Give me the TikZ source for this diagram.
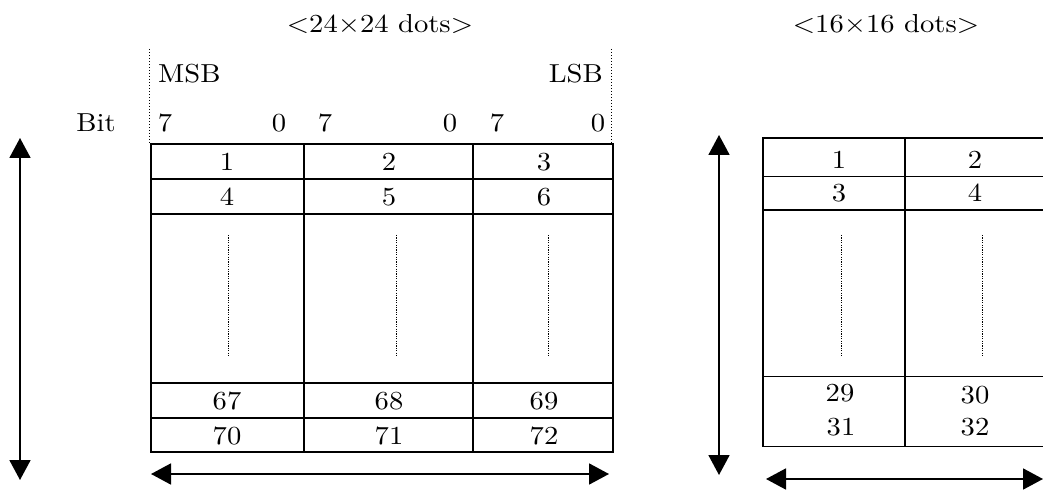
\documentclass[tikz,border=0pt]{standalone}
\usepackage{fontspec}
\setmainfont{lmroman10-regular.otf}[FakeStretch=1.1]
\usetikzlibrary{arrows.meta}
\begin{document}
\begin{tikzpicture}[x=1pt,y=-1pt,
  every node/.style={inner sep=0pt, font=\fontsize{26}{31}\selectfont},
  bigtable/.style={line width=2pt},
  smalltable/.style={line width=1.3pt},
  dotline/.style={line width=1pt, dash pattern=on 1.2pt off 1.2pt},
  guide/.style={line width=1pt, dash pattern=on 1.5pt off 1.5pt},
  arr/.style={line width=1.8pt, {Triangle[length=20pt,width=21pt]}-{Triangle[length=20pt,width=21pt]}}]
\useasboundingbox (0,0) rectangle (1043,502);
\clip (0,0) rectangle (1043,502);

% ---------- titles ----------
\node (t24) at (380,24) {<24×24 dots>};
\node (t16) at (886,24) {<16×16 dots>};

% ---------- left: header ----------
\draw[guide] (149,49) -- (149,143);
\draw[guide] (611.5,49) -- (611.5,143);
\node[anchor=west] (msb) at (158,74) {MSB};
\node[anchor=east] (lsb) at (603,74) {LSB};
\node (bit) at (96,123) {Bit};
\node (b1h) at (165,123) {7};
\node (b1l) at (279,123) {0};
\node (b2h) at (325,123) {7};
\node (b2l) at (450,123) {0};
\node (b3h) at (497,123) {7};
\node (b3l) at (598,123) {0};

% ---------- left table ----------
\draw[bigtable] (151,144) rectangle (613,452);
\draw[bigtable] (151,179) -- (613,179);
\draw[bigtable] (151,214) -- (613,214);
\draw[bigtable] (151,383) -- (613,383);
\draw[bigtable] (151,418) -- (613,418);
\draw[bigtable] (303.5,144) -- (303.5,452);
\draw[bigtable] (473,144) -- (473,452);

\node (c1) at (227,162) {1};
\node (c2) at (389,162) {2};
\node (c3) at (544,162) {3};
\node (c4) at (227,197) {4};
\node (c5) at (389,197) {5};
\node (c6) at (544,197) {6};
\node (c67) at (227,401) {67};
\node (c68) at (389,401) {68};
\node (c69) at (544,401) {69};
\node (c70) at (227,436) {70};
\node (c71) at (389,436) {71};
\node (c72) at (544,436) {72};

\draw[dotline] (228,235) -- (228,356);
\draw[dotline] (396,235) -- (396,356);
\draw[dotline] (548,235) -- (548,356);

% ---------- left arrows ----------
\coordinate (lvt) at (20,138);
\coordinate (lvb) at (20,480);
\draw[arr] (lvt) -- (lvb);
\coordinate (lhl) at (151,474);
\coordinate (lhr) at (609,474);
\draw[arr] (lhl) -- (lhr);

% ---------- right table ----------
\draw[smalltable] (763,138) rectangle (1047,446.5);
\draw[smalltable] (763,176.7) -- (1047,176.7);
\draw[smalltable] (763,210) -- (1047,210);
\draw[smalltable] (763,376.7) -- (1047,376.7);
\draw[smalltable] (905,138) -- (905,446.5);

\node (r1) at (839,160) {1};
\node (r2) at (975,160) {2};
\node (r3) at (839,193) {3};
\node (r4) at (975,193) {4};
\node (r29) at (840,393) {29};
\node (r30) at (975,395) {30};
\node (r31) at (841,427) {31};
\node (r32) at (975,427) {32};

\draw[dotline] (841,235) -- (841,357);
\draw[dotline] (982,235) -- (982,357);

% ---------- right arrows ----------
\coordinate (rvt) at (719,135);
\coordinate (rvb) at (719,475);
\draw[arr] (rvt) -- (rvb);
\coordinate (rhl) at (766,479);
\coordinate (rhr) at (1043,479);
\draw[arr] (rhl) -- (rhr);
\end{tikzpicture}
\end{document}
